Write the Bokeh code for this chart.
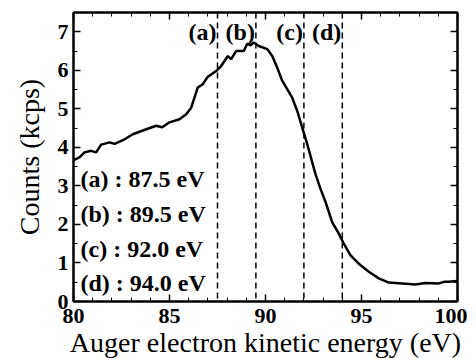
from bokeh.plotting import figure
from bokeh.models import LinearAxis, Span, Range1d, FixedTicker, ColumnDataSource, CustomJSTickFormatter
from bokeh.core.properties import value
from bokeh.embed import file_html
from bokeh.resources import INLINE

energy = [80.0, 80.31, 80.57, 80.92, 81.18, 81.44, 81.88, 82.14, 82.66, 83.09, 83.79,
          84.31, 84.62, 85.0, 85.52, 85.87, 86.13, 86.47, 86.73, 86.99, 87.43, 87.69,
          88.04, 88.21, 88.47, 88.87, 89.05, 89.22, 89.39, 89.65, 90.09, 90.35, 90.61,
          90.87, 91.39, 91.65, 91.91, 92.17, 92.6, 92.86, 93.13, 93.47, 93.82, 94.08,
          94.43, 94.86, 95.38, 95.9, 96.42, 97.12, 97.81, 98.33, 99.03, 99.29, 99.55, 99.98]
counts = [3.67, 3.74, 3.87, 3.91, 3.87, 4.07, 4.13, 4.09, 4.21, 4.34, 4.47,
          4.56, 4.52, 4.65, 4.73, 4.86, 5.03, 5.55, 5.64, 5.83, 5.98, 6.11,
          6.37, 6.29, 6.5, 6.5, 6.69, 6.65, 6.72, 6.63, 6.55, 6.37, 6.07,
          5.73, 5.29, 4.95, 4.52, 4.09, 3.31, 2.93, 2.58, 2.06, 1.76, 1.50,
          1.20, 0.98, 0.77, 0.60, 0.49, 0.47, 0.44, 0.48, 0.47, 0.51, 0.51, 0.53]

marker_energies = [87.5, 89.5, 92.0, 94.0]
marker_tags = ["(a)", "(b)", "(c)", "(d)"]
legend_lines = ["(a) : 87.5 eV", "(b) : 89.5 eV", "(c) : 92.0 eV", "(d) : 94.0 eV"]
legend_y = [3.19, 2.28, 1.37, 0.47]

x_ticks = [80, 85, 90, 95, 100]
x_minor = [81, 82, 83, 84, 86, 87, 88, 89, 91, 92, 93, 94, 96, 97, 98, 99]
y_ticks = [0, 1, 2, 3, 4, 5, 6, 7]
y_minor = [0.5, 1.5, 2.5, 3.5, 4.5, 5.5, 6.5, 7.5]

FONT = "Liberation Serif"

p = figure(frame_width=384, frame_height=289, output_backend="svg", toolbar_location=None,
           x_range=Range1d(80, 100), y_range=Range1d(0, 7.5),
           min_border_left=73, min_border_right=10, min_border_top=12, min_border_bottom=56,
           x_axis_label="Auger electron kinetic energy (eV)", y_axis_label="Counts (kcps)")
p.grid.visible = False
p.outline_line_color = "black"
p.outline_line_width = 2
p.background_fill_color = "white"
p.border_fill_color = "white"


def style_axis(ax, ticks, minor, show_labels=True):
    ax.ticker = FixedTicker(ticks=ticks, minor_ticks=minor)
    ax.major_tick_in = 7
    ax.major_tick_out = 0
    ax.minor_tick_in = 4
    ax.minor_tick_out = 0
    ax.axis_line_width = 2
    ax.major_tick_line_width = 1.5
    ax.minor_tick_line_width = 1
    ax.major_label_text_font = FONT
    ax.major_label_text_font_style = "bold"
    ax.major_label_text_font_size = "22px"
    ax.major_label_text_color = "black"
    ax.axis_label_text_font = FONT
    ax.axis_label_text_font_style = "normal"
    ax.axis_label_text_font_size = "28px"
    ax.axis_label_text_color = "black"
    if not show_labels:
        ax.formatter = CustomJSTickFormatter(code="return ''")
        ax.major_label_standoff = 0


for ax in p.xaxis:
    style_axis(ax, x_ticks, x_minor)
    ax.major_label_standoff = 7
    ax.axis_label_standoff = 1
for ax in p.yaxis:
    style_axis(ax, y_ticks, y_minor)
    ax.major_label_standoff = 5
    ax.axis_label_standoff = 10

top = LinearAxis()
style_axis(top, x_ticks, x_minor, show_labels=False)
p.add_layout(top, "above")
right = LinearAxis()
style_axis(right, y_ticks, y_minor, show_labels=False)
p.add_layout(right, "right")

for e in marker_energies:
    p.add_layout(Span(location=e, dimension="height", line_color="black",
                      line_dash="6 4", line_width=1.5))

p.line(energy, counts, line_color="black", line_width=2.5)

tag_src = ColumnDataSource(dict(x=marker_energies, y=[7.0] * 4, t=marker_tags))
p.text(x="x", y="y", text="t", source=tag_src, text_align="right", text_baseline="middle",
       x_offset=-1, text_font=value(FONT), text_font_style="bold", text_font_size="24px",
       text_color="black")

leg_src = ColumnDataSource(dict(x=[80.0] * 4, y=legend_y, t=legend_lines))
p.text(x="x", y="y", text="t", source=leg_src, text_align="left", text_baseline="middle",
       x_offset=7, text_font=value(FONT), text_font_style="bold", text_font_size="24px",
       text_color="black")

open("out.html", "w").write(file_html(p, INLINE))
